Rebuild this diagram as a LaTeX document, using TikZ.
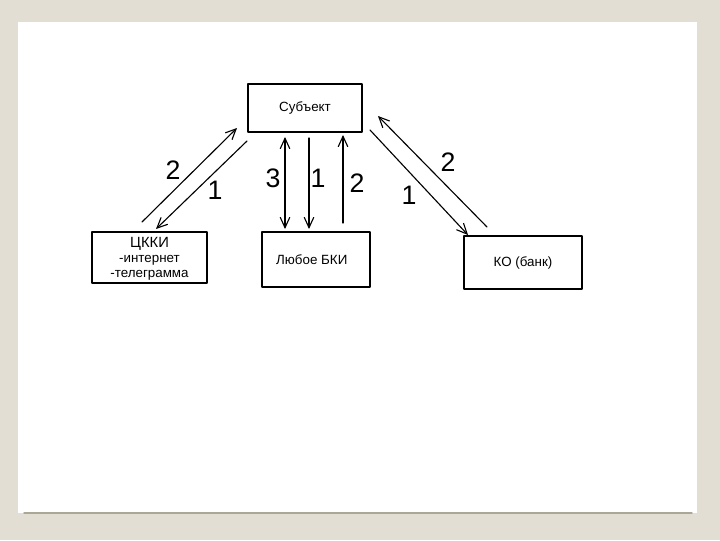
\documentclass[tikz,border=0pt]{standalone}
\usepackage{fontspec}
\setmainfont{Liberation Sans}
\usetikzlibrary{arrows.meta}
\definecolor{slidebg}{RGB}{226,222,211}
\definecolor{shadowln}{RGB}{170,166,152}
\tikzset{
  party/.style={draw,line width=1.1pt,rectangle,inner sep=1pt,align=center,font=\fontsize{9.5}{10.5}\selectfont},
  flow/.style={->,line width=.8pt},
  hand/.style={font=\fontsize{19}{19}\selectfont,inner sep=0pt}
}
\begin{document}
\begin{tikzpicture}[>={Straight Barb[length=2.6mm,width=2.4mm]},line join=round,line cap=round,x=0.025cm,y=-0.025cm]
			\fill[slidebg] (0,0) rectangle (720,540);
			\fill[white] (18,22) rectangle (697,513);
			\draw[shadowln,line width=1pt] (24,513)--(692,513);
			% participants
			\node[party,minimum width=2.85cm,minimum height=1.2cm] (subj) at (305,108) {Субъект};
			\node[party,minimum width=2.875cm,minimum height=1.275cm] (ckki) at (149.5,257.5) {};
			\node[align=center,font=\fontsize{9.5}{10.5}\selectfont,yshift=-1pt] (ckkitxt) at (ckki) {{\fontsize{10.5}{11.5}\selectfont ЦККИ}\\-интернет\\-телеграмма};
			\node[party,minimum width=2.7cm,minimum height=1.375cm] (bki) at (316,259.5) {Любое БКИ\hspace*{6pt}};
			\node[party,minimum width=2.95cm,minimum height=1.325cm] (ko) at (523,262.5) {КО (банк)};
			\path 
			(142,222) coordinate (L2s)
			(237,128) coordinate (L2e)
			(247,141) coordinate (L1s)
			(156,229) coordinate (L1e)
			(285,137) coordinate (V3s)
			(285,229) coordinate (V3e)
			(309,138) coordinate (V1s)
			(309,229) coordinate (V1e)
			(343,223) coordinate (V2s)
			(343,135) coordinate (V2e)
			(487,227) coordinate (R2s)
			(378,116) coordinate (R2e)
			(370,130) coordinate (R1s)
			(468,235) coordinate (R1e);
			\draw[flow] (L2s)--(L2e);
			\draw[flow] (L1s)--(L1e);
			\draw[flow,<->] (V3s)--(V3e);
			\draw[flow] (V1s)--(V1e);
			\draw[flow] (V2s)--(V2e);
			\draw[flow] (R2s)--(R2e);
			\draw[flow] (R1s)--(R1e);
			% step numbers
			\foreach \n/\p/\t in {nL2/{(173,170)}/2, nL1/{(215,190)}/1, nV3/{(273,178)}/3, nV1/{(318,178)}/1, nV2/{(357,183)}/2, nR2/{(448,162)}/2, nR1/{(409,195)}/1}
			\node[hand] (\n) at \p {\t};
		\end{tikzpicture}
\end{document}
